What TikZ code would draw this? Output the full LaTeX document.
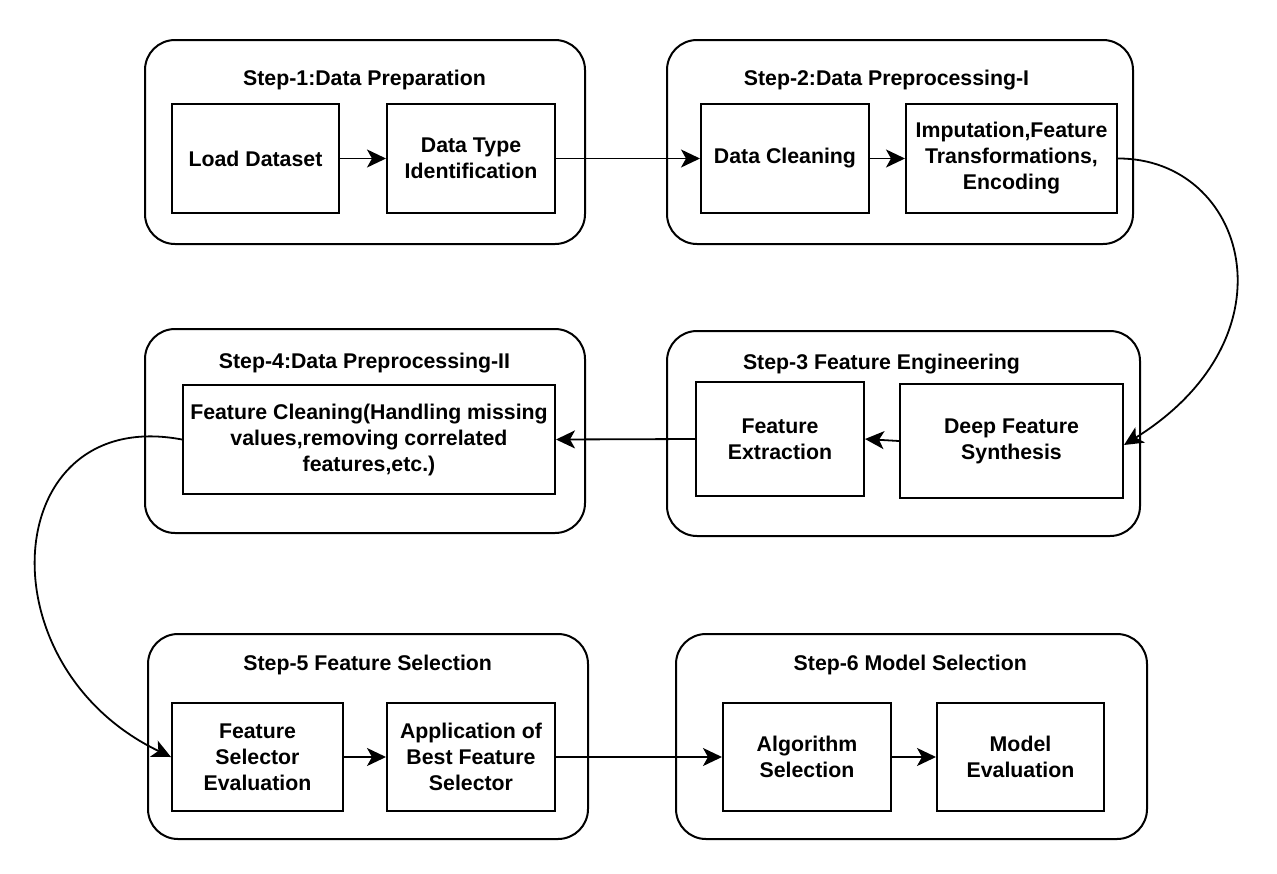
\documentclass[tikz,border=0pt]{standalone}
\usepackage{fontspec}
\setmainfont{Liberation Sans}
\usetikzlibrary{arrows.meta}
\begin{document}
\begin{tikzpicture}[x=1pt,y=-1pt,
  outer/.style={draw, line width=2pt, rounded corners=30pt, minimum width=#1, inner sep=0pt},
  inbox/.style={draw, line width=2pt, fill=white, align=center, inner sep=0pt,
    font=\fontsize{21.3}{26}\selectfont\bfseries},
  ttl/.style={anchor=base, inner sep=0pt, font=\fontsize{21.3}{26}\selectfont\bfseries},
  conn/.style={line width=1.8pt, -{Stealth[length=19pt,width=18pt,inset=5pt]}}]
\useasboundingbox (0,0) rectangle (1277,873);
% outer step boxes
\node[outer=440pt, minimum height=204pt] (s1) at (365,142) {};
\node[outer=466pt, minimum height=204pt] (s2) at (900,142) {};
\node[outer=473pt, minimum height=205pt] (s3) at (903.5,433.5) {};
\node[outer=440pt, minimum height=204pt] (s4) at (365,431) {};
\node[outer=440pt, minimum height=205pt] (s5) at (368,736.5) {};
\node[outer=471pt, minimum height=205pt] (s6) at (911.5,736.5) {};
% titles
\node[ttl] (t1) at (364.5,85) {Step-1:Data Preparation};
\node[ttl] (t2) at (886.5,85) {Step-2:Data Preprocessing-I};
\node[ttl] (t3) at (881.5,369) {Step-3 Feature Engineering};
\node[ttl] (t4) at (364.5,368) {Step-4:Data Preprocessing-II};
\node[ttl] (t5) at (367.7,670) {Step-5 Feature Selection};
\node[ttl] (t6) at (910.3,670) {Step-6 Model Selection};
% inner boxes
\node[inbox, minimum width=167pt, minimum height=109pt] (ld) at (255.5,158.5) {Load Dataset};
\node[inbox, minimum width=168pt, minimum height=109pt] (dt) at (471,158.5) {Data Type\\Identification};
\node[inbox, minimum width=168pt, minimum height=109pt] (dc) at (785,158.5) {Data Cleaning};
\node[inbox, minimum width=211pt, minimum height=109pt] (imp) at (1011.5,158.5) {Imputation,Feature\\Transformations,\\Encoding};
\node[inbox, minimum width=372pt, minimum height=109pt] (fc) at (369,439.5) {Feature Cleaning(Handling missing\\values,removing correlated\\features,etc.)};
\node[inbox, minimum width=168pt, minimum height=114pt] (fe) at (780,439) {Feature\\Extraction};
\node[inbox, minimum width=223pt, minimum height=114pt] (dfs) at (1011.5,441) {Deep Feature\\Synthesis};
\node[inbox, minimum width=171pt, minimum height=108pt] (fse) at (257.5,757) {Feature\\Selector\\Evaluation};
\node[inbox, minimum width=168pt, minimum height=108pt] (app) at (471,757) {Application of\\Best Feature\\Selector};
\node[inbox, minimum width=168pt, minimum height=108pt] (alg) at (807,757) {Algorithm\\Selection};
\node[inbox, minimum width=167pt, minimum height=108pt] (me) at (1020.5,757) {Model\\Evaluation};
% connectors
\draw[conn] (ld.east) -- (dt.west);
\draw[conn] (dt.east) -- (dc.west);
\draw[conn] (dc.east) -- (imp.west);
\draw[conn] (imp.east) .. controls (1245,158) and (1300,335) .. ([yshift=-4pt]dfs.east);
\draw[conn] (dfs.west) -- (fe.east);
\draw[conn] (fe.west) -- (fc.east);
\draw[conn] (fc.west) .. controls (0,405) and (-20,665) .. (fse.west);
\draw[conn] (fse.east) -- (app.west);
\draw[conn] (app.east) -- (alg.west);
\draw[conn] (alg.east) -- (me.west);
\end{tikzpicture}
\end{document}
